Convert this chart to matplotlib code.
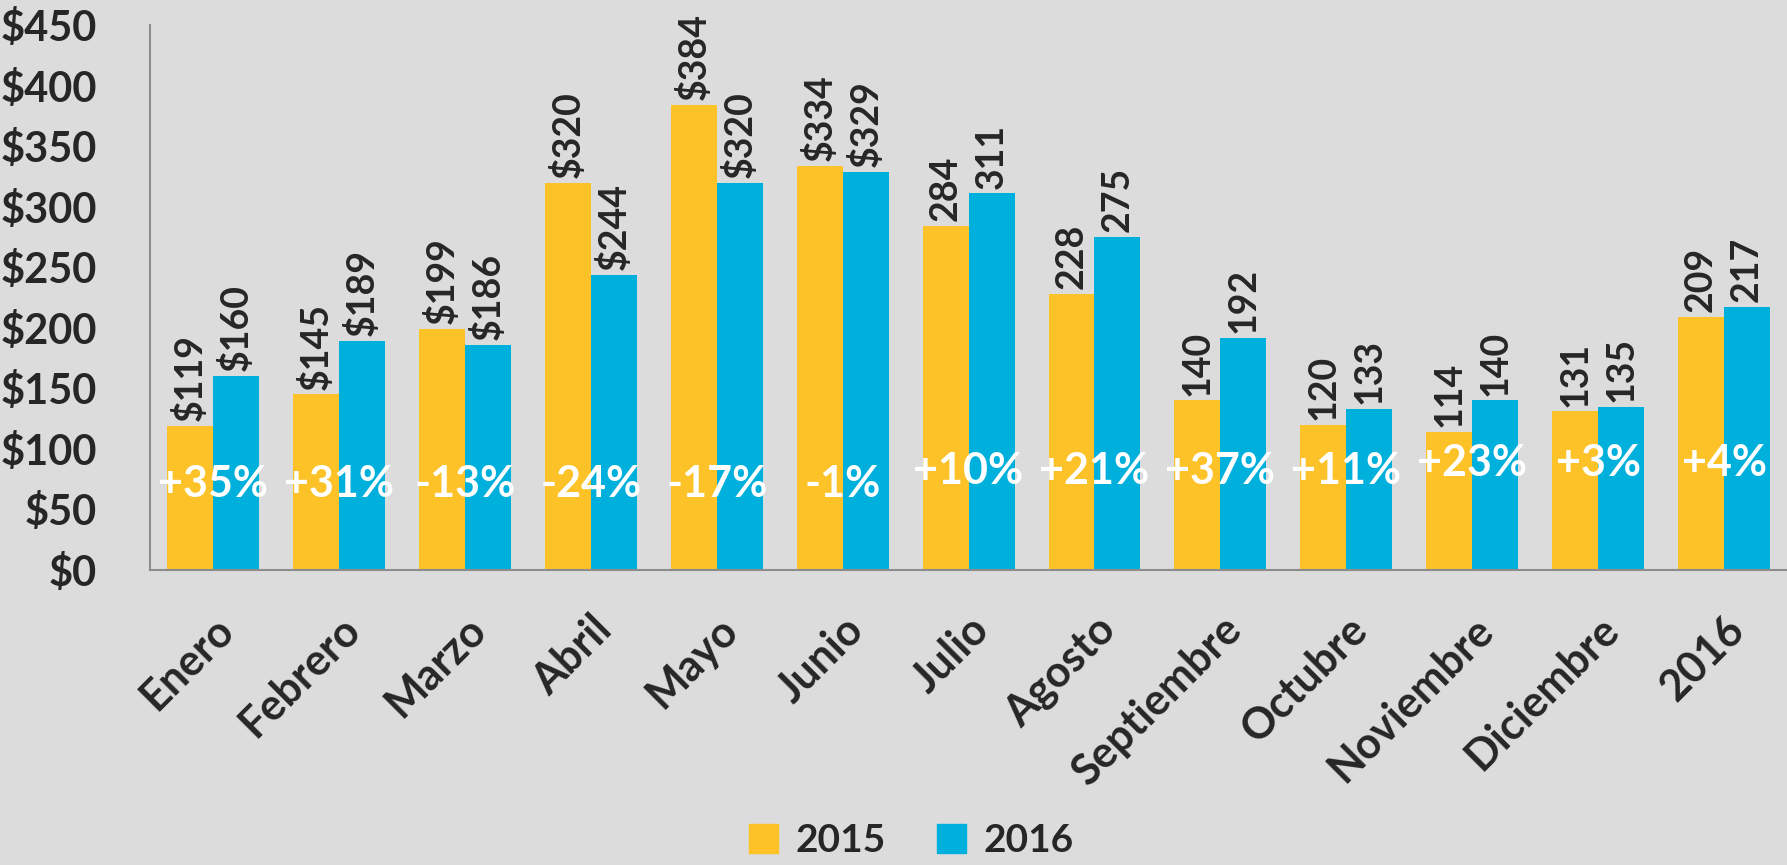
import matplotlib.pyplot as plt
import numpy as np
from matplotlib.patches import Patch

plt.rcParams['font.family'] = ['Lato', 'DejaVu Sans']

meses = ['Enero', 'Febrero', 'Marzo', 'Abril', 'Mayo', 'Junio', 'Julio',
         'Agosto', 'Septiembre', 'Octubre', 'Noviembre', 'Diciembre', '2016']
v2015 = [119, 145, 199, 320, 384, 334, 284, 228, 140, 120, 114, 131, 209]
v2016 = [160, 189, 186, 244, 320, 329, 311, 275, 192, 133, 140, 135, 217]
cambio = ['+35%', '+31%', '-13%', '-24%', '-17%', '-1%', '+10%',
          '+21%', '+37%', '+11%', '+23%', '+3%', '+4%']
con_signo = [True] * 6 + [False] * 7
yticks = [0, 50, 100, 150, 200, 250, 300, 350, 400, 450]

bg = '#dcdcdc'
amarillo = '#fdc227'
azul = '#00b0dc'
texto = '#262626'

fig = plt.figure(figsize=(17.87, 8.65), dpi=100, facecolor=bg)
ax = fig.add_axes([0.084, 0.341, 0.916, 0.63], facecolor=bg)

x = np.arange(len(meses))
w = 0.365
ax.bar(x - w / 2, v2015, w, color=amarillo)
ax.bar(x + w / 2, v2016, w, color=azul)

for i in range(len(meses)):
    for val, dx in ((v2015[i], -w / 2), (v2016[i], w / 2)):
        s = ('$%d' % val) if con_signo[i] else str(val)
        ax.text(x[i] + dx, val + 4, s, rotation=90, ha='center', va='bottom',
                fontsize=27, fontweight='bold', color=texto)
    # percent labels sit a bit higher on the right-hand groups
    py = 71 if i < 6 else (82 if i < 10 else 88)
    ax.text(x[i], py, cambio[i], ha='center', va='center', fontsize=31,
            fontweight='bold', color='white')

ax.set_xlim(-0.5, len(meses) - 0.5)
ax.set_ylim(0, 450)
ax.set_yticks(yticks)
ax.set_yticklabels(['$%d' % t for t in yticks], fontsize=30, fontweight='bold',
                   color=texto)
ax.set_xticks(x)
ax.set_xticklabels(meses, rotation=45, ha='right', rotation_mode='anchor',
                   fontsize=31, fontweight='bold', color=texto)
ax.tick_params(axis='y', length=0, pad=38)
ax.tick_params(axis='x', length=0, pad=28)
for s in ['top', 'right']:
    ax.spines[s].set_visible(False)
for s in ['left', 'bottom']:
    ax.spines[s].set_color('#8c8c8c')
    ax.spines[s].set_linewidth(1.5)

handles = [Patch(color=amarillo, label='2015'), Patch(color=azul, label='2016')]
leg = fig.legend(handles=handles, loc='center', bbox_to_anchor=(0.51, 0.028),
                 ncol=2, frameon=False, handlelength=0.75, handleheight=0.75,
                 handletextpad=0.45, columnspacing=1.3,
                 prop={'size': 28, 'weight': 'bold'})
for t in leg.get_texts():
    t.set_color(texto)

fig.savefig('out.png', dpi=100, facecolor=bg)
